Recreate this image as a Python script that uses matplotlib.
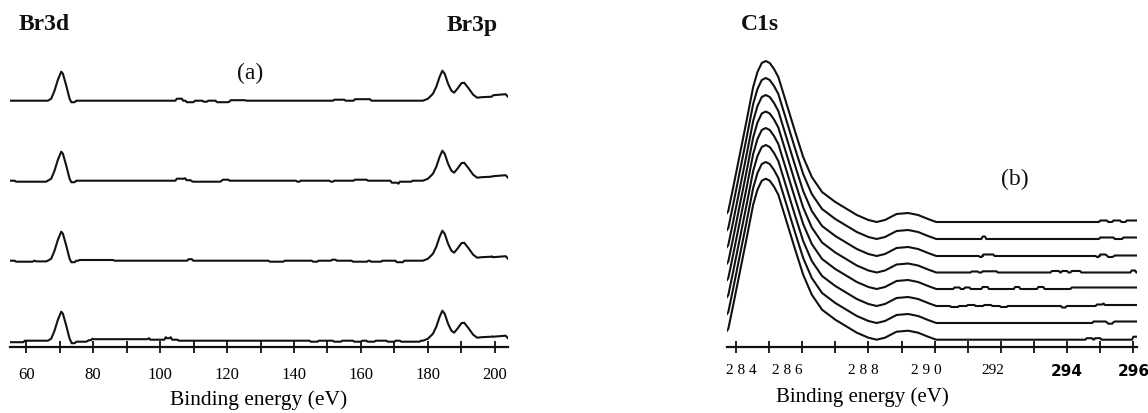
import numpy as np
import matplotlib
matplotlib.use("Agg")
import matplotlib.pyplot as plt
from matplotlib.transforms import ScaledTranslation

# ---------------- data: panel (a) Br3d / Br3p survey ----------------
br_energy = [55.2, 66.5, 67.5, 68.5, 69.5, 70.5, 71.0, 72.0, 73.0, 73.5, 74.5, 75.0,
             178.5, 180.0, 181.5, 182.5, 183.5, 184.3, 185.0, 186.0, 187.0, 187.8,
             188.8, 190.0, 190.8, 192.0, 193.5, 194.7, 196.0, 199.0, 199.5, 203.2, 203.9]
br_height = [0, 0, 2, 10, 21, 29, 27, 15, 2, -1.5, -1.5, 0,
             0, 2, 7, 14, 24, 30, 27, 17, 10, 8,
             12, 17.5, 18, 13, 6, 3, 3.5, 4, 5.5, 6.5, 4]
br_offsets = [246.3, 166.3, 86.3, 6.3]          # top to bottom
br_glitches = [
    [(105.0, 106.5, 2), (108, 110, -1.5), (113, 114, -1), (117, 120.7, -1.5),
     (120.7, 125.4, 0.5), (152, 155, 1), (158.2, 162.7, 1.5)],
    [(57, 66, -1), (105.0, 107.5, 2), (107.5, 109.5, 0.5), (109.5, 118.4, -1),
     (118.4, 120.4, 1), (141, 141.6, -1), (151, 151.6, -1), (158.2, 161.7, 1),
     (169.2, 171.2, -2), (171.2, 175, -1), (199.5, 204, -1)],
    [(57, 62, -1), (63, 66, -0.7), (76, 86, 0.7), (108.5, 109.5, 1.5),
     (132.8, 136.8, -1), (145.7, 146.9, -1), (151.4, 152.4, 1), (157.6, 161.8, -1),
     (163, 166, -1), (170.7, 172.5, -1.5), (199.5, 204, -2)],
    [(55.2, 59.2, -1.5), (73.6, 78.3, -1), (78.3, 79.8, 0.5), (79.8, 96.7, 1.5),
     (96.7, 101.7, 1), (101.7, 103.2, 2.5), (103.2, 105.2, 1), (145, 147, -1),
     (152, 154, -1), (158, 160, -1), (162, 164, -1), (168, 170, -1), (172, 177.5, -1),
     (199.5, 204, -1.5)],
]
br_ticks = list(range(60, 201, 10))
br_ticklabels = [str(t) if t % 20 == 0 else "" for t in br_ticks]

# ---------------- data: panel (b) C1s ----------------
c1s_energy = [283.73, 283.77, 283.92, 284.12, 284.32, 284.52, 284.65, 284.78, 284.90,
              285.02, 285.15, 285.28, 285.53, 285.78, 286.03, 286.29, 286.60, 287.00,
              287.30, 287.65, 288.00, 288.25, 288.50, 288.85, 289.20, 289.50, 289.80,
              290.05, 296.11]
c1s_height = [9, 11, 35, 68, 101, 135, 150, 159, 161,
              159, 153, 145, 118, 91, 65, 45, 30, 20,
              14, 7, 2, 0, 2, 8, 9, 7, 3,
              0, 0]
c1s_offsets = [125, 108, 91, 74.5, 58, 41, 24, 7.3]   # top to bottom
c1s_glitches = [
    [(295.0, 295.2, 1.5), (295.4, 295.6, 1.5), (295.8, 296.11, 1.5)],
    [(291.45, 291.52, 2.5), (295.0, 295.4, 1.5), (295.7, 296.11, 1.5)],
    [(291.37, 291.42, -1), (291.47, 291.77, 1.5), (294.9, 294.95, -1),
     (295.0, 295.2, 1.5), (295.2, 295.4, -1), (295.4, 296.11, 0.5)],
    [(291.12, 291.3, 1), (291.45, 291.87, 1.2), (293.54, 293.75, 1.5),
     (293.85, 294.0, 1.5), (294.14, 294.39, 1.5), (295.95, 296.05, 2)],
    [(290.6, 290.75, 1.5), (290.92, 291.05, 1.5), (291.45, 291.6, 2),
     (292.43, 292.55, 2), (293.13, 293.28, 2), (294.14, 296.11, 1.5)],
    [(290.5, 290.7, -1), (291.0, 291.2, 1), (291.5, 291.7, 1), (292.0, 292.17, -1),
     (293.85, 293.95, -1.5), (294.9, 295.1, 1.5), (295.1, 296.11, 1)],
    [(294.8, 295.2, 1.5), (295.2, 295.4, -0.7), (295.4, 296.11, 1.5)],
    [(294.59, 294.75, 1.5), (294.85, 295.0, 1.5), (296.0, 296.11, 3)],
]
c1s_ticks = list(range(284, 297))
c1s_ticklabels = ["2 8 4", "", "2 8 6", "", "2 8 8", "", "2 9 0", "", "292", "", "294", "", "296"]


def build_trace(shape_e, shape_h, offset, glitches, eps):
    e_pts = list(shape_e)
    for a, b, d in glitches:
        e_pts += [a - eps, a, b, b + eps]
    lo, hi = shape_e[0], shape_e[-1]
    e_pts = np.array(sorted(set(p for p in e_pts if lo <= p <= hi)))
    vals = np.interp(e_pts, shape_e, shape_h) + offset
    for a, b, d in glitches:
        vals = vals + np.where((e_pts >= a) & (e_pts <= b), d, 0.0)
    return e_pts, vals


W, H = 1148, 414
fig = plt.figure(figsize=(W / 100, H / 100), dpi=100)
serif = "Liberation Serif"
line_kw = dict(color="#111111", lw=1.5, solid_joinstyle="round")


def style_axis(ax):
    for s in ("top", "right", "left"):
        ax.spines[s].set_visible(False)
    ax.spines["bottom"].set_linewidth(1.6)
    ax.spines["bottom"].set_color("#111111")
    ax.set_yticks([])
    ax.tick_params(axis="x", direction="inout", length=9, width=1.3, color="#111111")


# ---------------- panel (a) ----------------
axa = fig.add_axes([10 / W, (H - 348) / H, 498 / W, 348 / H])
for off, gl in zip(br_offsets, br_glitches):
    e, v = build_trace(br_energy, br_height, off, gl, 0.4)
    axa.plot(e, v, **line_kw)
axa.set_xlim(55.2, 203.9)
axa.set_ylim(0, 348)
style_axis(axa)
axa.set_xticks(br_ticks)
axa.set_xticklabels(br_ticklabels, fontfamily=serif, fontsize=12)
axa.tick_params(axis="x", pad=9)
axa.set_xlabel("Binding energy (eV)", fontfamily=serif, fontsize=15.5)
axa.xaxis.label.set_va("center")
axa.xaxis.set_label_coords((259 - 10) / 498, -52 / 348)

# ---------------- panel (b) ----------------
axb = fig.add_axes([727 / W, (H - 348) / H, 410 / W, 348 / H])
for off, gl in zip(c1s_offsets, c1s_glitches):
    e, v = build_trace(c1s_energy, c1s_height, off, gl, 0.04)
    axb.plot(e, v, **line_kw)
axb.set_xlim(283.73, 296.11)
axb.set_ylim(0, 348)
style_axis(axb)
axb.set_xticks(c1s_ticks)
axb.set_xticklabels(c1s_ticklabels, fontfamily=serif, fontsize=11)
axb.tick_params(axis="x", pad=7)
label_shift_px = {0: 5, 2: -15, 4: -5, 6: -8, 8: -8, 10: 0, 12: 0}
for i, lab in enumerate(axb.get_xticklabels()):
    if i in (10, 12):
        lab.set_fontfamily("DejaVu Sans")
        lab.set_fontweight("bold")
        lab.set_fontsize(11)
    if i in label_shift_px:
        lab.set_transform(lab.get_transform() +
                          ScaledTranslation(label_shift_px[i] / 100, 0, fig.dpi_scale_trans))
axb.set_xlabel("Binding energy (eV)", fontfamily=serif, fontsize=15)
axb.xaxis.label.set_va("center")
axb.xaxis.set_label_coords((862 - 727) / 410, -49 / 348)

# ---------------- annotations ----------------
def ftext(x, y, s, **kw):
    fig.text(x / W, 1 - y / H, s, ha="center", va="center", fontfamily=serif,
             color="#111111", **kw)

ftext(44, 25, "Br3d", fontsize=17, fontweight="bold")
ftext(472, 25, "Br3p", fontsize=17, fontweight="bold")
ftext(250, 73, "(a)", fontsize=17)
ftext(760, 25, "C1s", fontsize=17, fontweight="bold")
ftext(1015, 179, "(b)", fontsize=17)

fig.savefig("out.png", dpi=100, facecolor="white")
